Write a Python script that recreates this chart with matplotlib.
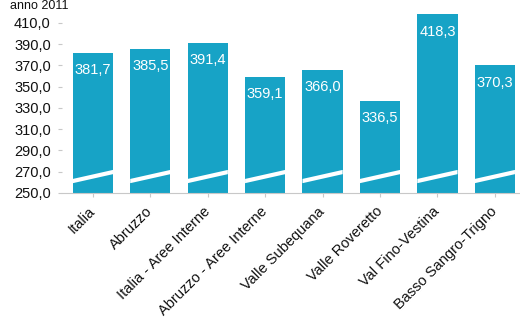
import matplotlib
matplotlib.use("Agg")
import matplotlib.pyplot as plt
from matplotlib.patches import Polygon
from matplotlib.ticker import FuncFormatter

# data
categories = ["Italia", "Abruzzo", "Italia - Aree Interne", "Abruzzo - Aree Interne",
              "Valle Subequana", "Valle Roveretto", "Val Fino-Vestina", "Basso Sangro-Trigno"]
values = [381.7, 385.5, 391.4, 359.1, 366.0, 336.5, 418.3, 370.3]
yticks = [250, 270, 290, 310, 330, 350, 370, 390, 410]
title = "anno 2011"

BAR = "#17a3c6"
TXT = "#111111"

plt.rcParams["font.family"] = ["Liberation Sans", "DejaVu Sans"]

fig = plt.figure(figsize=(5.2, 3.17), dpi=100)
ax = fig.add_axes([0.119, 0.392, 0.879, 0.576])

x = list(range(len(categories)))
width = 0.7
bars = ax.bar(x, values, width=width, color=BAR, zorder=2)

# white slanted axis-break band across each bar
for b in bars:
    x0, x1 = b.get_x(), b.get_x() + b.get_width()
    ax.add_patch(Polygon([(x0, 259), (x1, 267.5), (x1, 271.5), (x0, 263)],
                         closed=True, facecolor="white", edgecolor="none", zorder=3))

for xi, v in zip(x, values):
    ax.annotate(f"{v:.1f}".replace(".", ","), (xi, v), xytext=(0, -17.5),
                textcoords="offset pixels", ha="center", va="center",
                color="white", fontsize=10.5, zorder=4)

ax.set_xlim(-0.54, 7.42)
ax.set_ylim(250, 422)
ax.set_yticks(yticks)
ax.yaxis.set_major_formatter(FuncFormatter(lambda v, _: f"{v:.1f}".replace(".", ",")))
ax.set_xticks(x)
ax.set_xticklabels(categories, rotation=45, ha="right", va="center",
                   rotation_mode="anchor", fontsize=10.5, color=TXT)
ax.tick_params(axis="y", length=3, color="#c8c8c8", labelsize=10.5, labelcolor=TXT, pad=5)
ax.tick_params(axis="x", length=3, color="#c8c8c8", pad=9)

for s in ["top", "right", "left"]:
    ax.spines[s].set_visible(False)
ax.spines["bottom"].set_color("#c8c8c8")

fig.text(0.02, 0.999, title, ha="left", va="top", fontsize=9, color=TXT)

fig.savefig("out.png", dpi=100)
